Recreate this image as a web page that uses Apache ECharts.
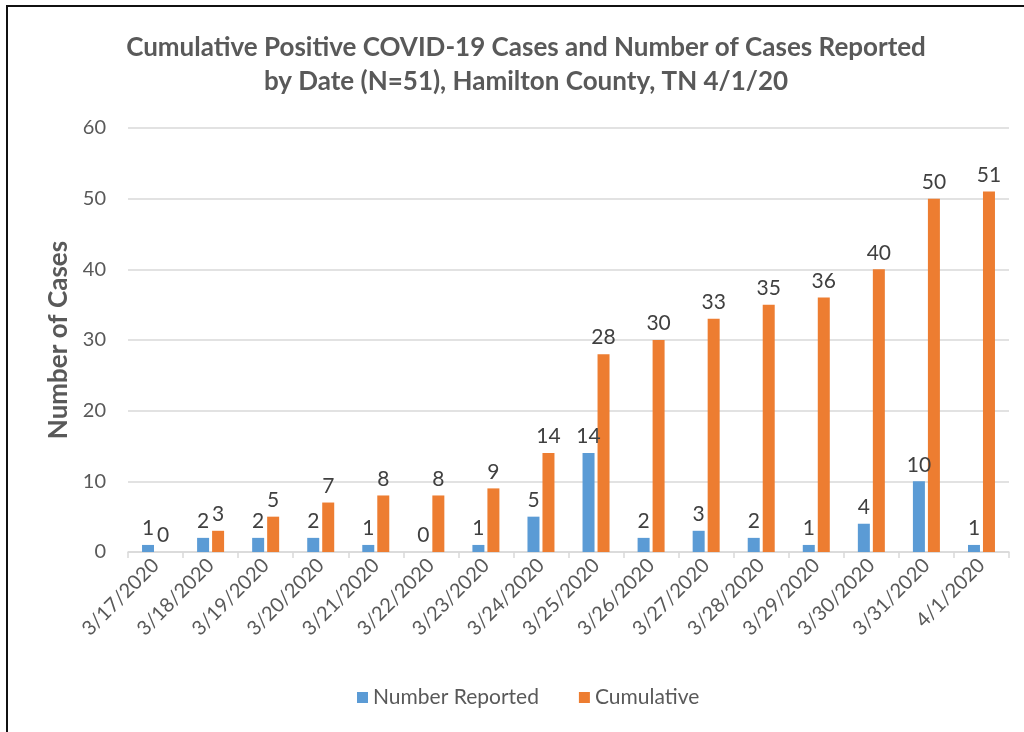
<!DOCTYPE html>
<html>
<head>
<meta charset="utf-8">
<script src="https://cdn.jsdelivr.net/npm/echarts@6/dist/echarts.min.js"></script>
<style>
html, body { margin: 0; padding: 0; background: #fff; }
#frame { position: absolute; left: 6px; top: 5px; width: 1100px; height: 800px; border-left: 2px solid #111; border-top: 2px solid #111; }
#main { position: absolute; left: 0; top: 0; width: 1024px; height: 732px; }
</style>
</head>
<body>
<div id="frame"></div>
<div id="main"></div>
<script>
var dates = ["3/17/2020", "3/18/2020", "3/19/2020", "3/20/2020", "3/21/2020", "3/22/2020", "3/23/2020", "3/24/2020",
    "3/25/2020", "3/26/2020", "3/27/2020", "3/28/2020", "3/29/2020", "3/30/2020", "3/31/2020", "4/1/2020"];
var reported = [1, 2, 2, 2, 1, 0, 1, 5, 14, 2, 3, 2, 1, 4, 10, 1];
var cumulative = [0, 3, 5, 7, 8, 8, 9, 14, 28, 30, 33, 35, 36, 40, 50, 51];
var yTicks = [0, 10, 20, 30, 40, 50, 60];

var FONT = "Lato";
var GRAY = "#595959";

window.onload = function () {
    var chart = echarts.init(document.getElementById('main'));
    var labelStyle = {
        show: true,
        position: 'top',
        distance: 6,
        color: '#404040',
        fontFamily: FONT,
        fontSize: 21
    };
    var option = {
        animation: false,
        title: {
            text: 'Cumulative Positive COVID-19 Cases and Number of Cases Reported\nby Date (N=51), Hamilton County, TN 4/1/20',
            left: 521,
            textAlign: 'center',
            top: 26,
            textStyle: {
                color: GRAY,
                fontFamily: FONT,
                fontWeight: 'bold',
                fontSize: 26,
                lineHeight: 34
            }
        },
        legend: {
            bottom: 19,
            left: 352,
            itemWidth: 11,
            itemHeight: 11,
            itemGap: 40,
            icon: 'rect',
            textStyle: { color: GRAY, fontFamily: FONT, fontSize: 21 },
            data: ['Number Reported', 'Cumulative']
        },
        grid: { left: 128, right: 15, top: 128, bottom: 180 },
        xAxis: {
            type: 'category',
            data: dates,
            axisLine: { lineStyle: { color: '#d9d9d9', width: 1.5 } },
            axisTick: { show: true, length: 6, lineStyle: { color: '#d9d9d9', width: 1.5 } },
            axisLabel: {
                rotate: 45,
                color: GRAY,
                fontFamily: FONT,
                fontSize: 20,
                margin: 10
            }
        },
        yAxis: {
            type: 'value',
            min: yTicks[0],
            max: yTicks[yTicks.length - 1],
            interval: 10,
            name: 'Number of Cases',
            nameLocation: 'middle',
            nameGap: 54,
            nameTextStyle: { color: GRAY, fontFamily: FONT, fontWeight: 'bold', fontSize: 26 },
            axisLine: { show: false },
            axisTick: { show: false },
            axisLabel: { color: GRAY, fontFamily: FONT, fontSize: 20, margin: 22 },
            splitLine: { lineStyle: { color: '#d9d9d9', width: 1.5 } }
        },
        series: [
            {
                name: 'Number Reported',
                type: 'bar',
                data: reported,
                barWidth: 12,
                barGap: '25%',
                itemStyle: { color: '#5B9BD5' },
                label: labelStyle
            },
            {
                name: 'Cumulative',
                type: 'bar',
                data: cumulative,
                barWidth: 12,
                itemStyle: { color: '#ED7D31' },
                label: labelStyle
            }
        ]
    };
    chart.setOption(option);
};
</script>
</body>
</html>
